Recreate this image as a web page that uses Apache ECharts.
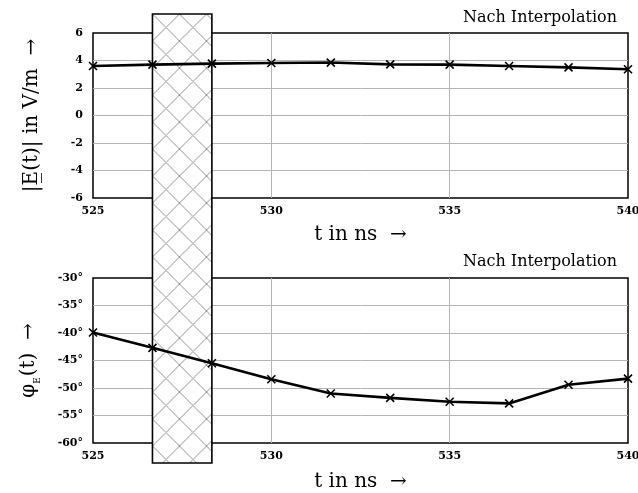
<!DOCTYPE html>
<html>
<head>
<meta charset="utf-8">
<script src="https://cdn.jsdelivr.net/npm/echarts@6/dist/echarts.min.js"></script>
<style>html,body{margin:0;padding:0;background:#fff}#c{width:638px;height:493px}</style>
</head>
<body>
<div id="c"></div>
<script>
// ---- data ----
var tValues = [525, 526.667, 528.333, 530, 531.667, 533.333, 535, 536.667, 538.333, 540];
var ampValues = [3.6, 3.7, 3.77, 3.82, 3.85, 3.72, 3.7, 3.6, 3.5, 3.36];
var phaseValues = [-39.9, -42.7, -45.5, -48.4, -51.0, -51.8, -52.5, -52.8, -49.4, -48.3];
var hatchRange = [526.667, 528.333];
var xTicks = [525, 530, 535, 540];
var ampTicks = [-6, -4, -2, 0, 2, 4, 6];
var phaseTicks = [-60, -55, -50, -45, -40, -35, -30];
var panelTitle = 'Nach Interpolation';

var SERIF = '"DejaVu Serif", "Liberation Serif", serif';
var chart = echarts.init(document.getElementById('c'), null, {renderer: 'canvas'});

// hatch tile
var D = 27;
var tile = document.createElement('canvas');
tile.width = D; tile.height = D;
var tc = tile.getContext('2d');
tc.fillStyle = '#fff'; tc.fillRect(0, 0, D, D);
tc.strokeStyle = '#949494'; tc.lineWidth = 1;
tc.beginPath();
tc.moveTo(0, 0); tc.lineTo(D, D);
tc.moveTo(D, 0); tc.lineTo(0, D);
tc.stroke();

function pairs(xs, ys) { return xs.map(function (x, i) { return [x, ys[i]]; }); }

var xMark = 'path://M0,0L10,10M10,0L0,10';

function xAxisCfg(gi, gap) {
  return {
    type: 'value', gridIndex: gi, min: xTicks[0], max: xTicks[xTicks.length - 1],
    interval: xTicks[1] - xTicks[0],
    name: 't in ns  →', nameLocation: 'middle', nameGap: gap,
    nameTextStyle: {fontFamily: SERIF, fontSize: 20, color: '#000'},
    axisLine: {show: false}, axisTick: {show: false},
    axisLabel: {fontFamily: SERIF, fontWeight: 'bold', fontSize: 11, color: '#000', margin: 8},
    splitLine: {show: true, showMinLine: false, showMaxLine: false, lineStyle: {color: '#b4b4b4', width: 1}}
  };
}
function yAxisCfg(gi, ticks, name, rich, fmt) {
  return {
    type: 'value', gridIndex: gi, min: ticks[0], max: ticks[ticks.length - 1],
    interval: ticks[1] - ticks[0],
    name: name, nameLocation: 'middle', nameRotate: 90, nameGap: 51,
    nameTextStyle: {fontFamily: SERIF, fontSize: 20, color: '#000', rich: rich},
    axisLine: {show: false}, axisTick: {show: false},
    axisLabel: {fontFamily: SERIF, fontWeight: 'bold', fontSize: 11, color: '#000', margin: 10, formatter: fmt},
    splitLine: {show: true, showMinLine: false, showMaxLine: false, lineStyle: {color: '#b4b4b4', width: 1}}
  };
}

var lineStyleCommon = {color: '#000', width: 2.6};

chart.setOption({
  animation: false,
  backgroundColor: '#fff',
  title: [
    {text: panelTitle, right: 16, top: 5, textStyle: {fontFamily: SERIF, fontWeight: 'normal', fontSize: 16, color: '#000'}},
    {text: panelTitle, right: 16, top: 249, textStyle: {fontFamily: SERIF, fontWeight: 'normal', fontSize: 16, color: '#000'}}
  ],
  grid: [
    {left: 93, top: 33, width: 535, height: 165, show: true, borderColor: '#000', borderWidth: 1.5, backgroundColor: 'transparent', outerBoundsMode: 'none', containLabel: false},
    {left: 93, top: 278, width: 535, height: 165, show: true, borderColor: '#000', borderWidth: 1.5, backgroundColor: 'transparent', outerBoundsMode: 'none', containLabel: false},
    {left: 93, top: 14, width: 535, height: 449, show: false, outerBoundsMode: 'none', containLabel: false}
  ],
  xAxis: [
    xAxisCfg(0, 27), xAxisCfg(1, 29),
    {type: 'value', gridIndex: 2, min: xTicks[0], max: xTicks[xTicks.length - 1], show: false}
  ],
  yAxis: [
    yAxisCfg(0, ampTicks, '|E\u0332(t)| in V/m  →', null, function (v) { return String(v); }),
    yAxisCfg(1, phaseTicks, '{a|φ}{s|E}{a|(t)  →}', {
      a: {fontFamily: SERIF, fontSize: 20, color: '#000', lineHeight: 26},
      s: {fontFamily: SERIF, fontSize: 9, color: '#000', verticalAlign: 'bottom', lineHeight: 26, padding: [0, 1, 0, 0]}
    }, function (v) { return v + '°'; }),
    {type: 'value', gridIndex: 2, min: 0, max: 1, show: false}
  ],
  series: [
    {
      type: 'custom', xAxisIndex: 2, yAxisIndex: 2, z: 3, silent: true,
      data: [[hatchRange[0], hatchRange[1]]],
      renderItem: function (params, api) {
        var p0 = api.coord([api.value(0), 1]);
        var p1 = api.coord([api.value(1), 0]);
        return {
          type: 'rect',
          shape: {x: p0[0], y: p0[1], width: p1[0] - p0[0], height: p1[1] - p0[1]},
          style: {
            fill: {image: tile, repeat: 'repeat', x: p0[0], y: p0[1]},
            stroke: '#000', lineWidth: 1.6
          }
        };
      }
    },
    {
      type: 'line', xAxisIndex: 0, yAxisIndex: 0, z: 5,
      data: pairs(tValues, ampValues),
      symbol: xMark, symbolSize: 8, showAllSymbol: true,
      itemStyle: {color: 'rgba(0,0,0,0)', borderColor: '#000', borderWidth: 1.6},
      lineStyle: lineStyleCommon
    },
    {
      type: 'line', xAxisIndex: 1, yAxisIndex: 1, z: 5,
      data: pairs(tValues, phaseValues),
      symbol: xMark, symbolSize: 8, showAllSymbol: true,
      itemStyle: {color: 'rgba(0,0,0,0)', borderColor: '#000', borderWidth: 1.6},
      lineStyle: lineStyleCommon
    }
  ]
});
</script>
</body>
</html>
